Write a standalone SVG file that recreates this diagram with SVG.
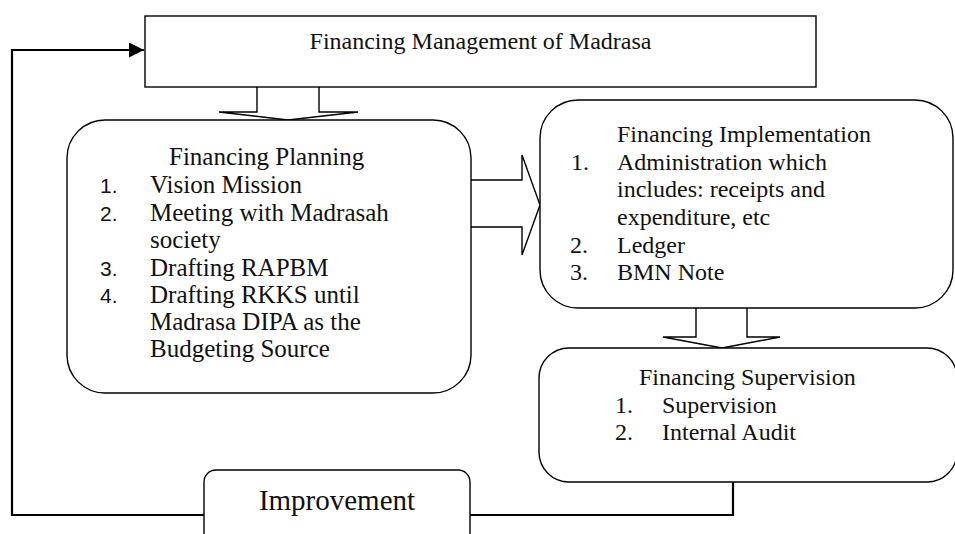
<svg xmlns="http://www.w3.org/2000/svg" width="955" height="534" viewBox="0 0 955 534">
<style>
.box{fill:#fff;stroke:#000;stroke-width:1.4}
.conn{fill:none;stroke:#000;stroke-width:1.4}
.fb{fill:none;stroke:#000;stroke-width:2.2}
.t{font-family:"Liberation Serif","Times New Roman",serif;font-size:24px;fill:#111}
.p{font-family:"Liberation Serif","Times New Roman",serif;font-size:25px;fill:#111}
.n{font-family:"Liberation Sans",Arial,sans-serif;font-size:21px;fill:#111}
.big{font-family:"Liberation Serif","Times New Roman",serif;font-size:29px;fill:#111}
</style>
<defs>
<marker id="ah" viewBox="0 0 10 10" refX="10" refY="5" markerWidth="15" markerHeight="15" markerUnits="userSpaceOnUse" orient="auto">
<path d="M0,0 L10,5 L0,10 Z" fill="#000"/>
</marker>
</defs>
<rect width="955" height="534" fill="#fff"/>
<g id="connectors">
<polyline class="fb" points="733,482 733,515 12,515 12,50 144,50" marker-end="url(#ah)"/>
<path class="conn" d="M257,87 V112 H219 L288,120 L358,112 H319 V87"/>
<path class="conn" d="M471,180 H522 V155 L540,205 L522,255 V227 H471"/>
<path class="conn" d="M696,308 V337 H663 L722,348 L780,337 H747 V308"/>
</g>
<g id="management">
<rect class="box" x="145" y="16" width="671" height="71"/>
<text class="t" x="480.5" y="49" text-anchor="middle">Financing Management of Madrasa</text>
</g>
<g id="planning">
<rect class="box" x="67" y="120" width="404" height="273" rx="38" ry="38"/>
<text class="p" x="169" y="165">Financing Planning</text>
<text class="n" x="100" y="193">1.</text>
<text class="n" x="100" y="221">2.</text>
<text class="n" x="100" y="276">3.</text>
<text class="n" x="100" y="303">4.</text>
<text class="p" x="150" y="193">Vision Mission</text>
<text class="p" x="150" y="221">Meeting with Madrasah</text>
<text class="p" x="150" y="248">society</text>
<text class="p" x="150" y="276">Drafting RAPBM</text>
<text class="p" x="150" y="303">Drafting RKKS until</text>
<text class="p" x="150" y="330">Madrasa DIPA as the</text>
<text class="p" x="150" y="357">Budgeting Source</text>
</g>
<g id="implementation">
<rect class="box" x="540" y="100" width="413" height="208" rx="38" ry="38"/>
<text class="t" x="617" y="142">Financing Implementation</text>
<text class="t" x="571" y="170">1.</text>
<text class="t" x="617" y="170">Administration which</text>
<text class="t" x="617" y="197">includes: receipts and</text>
<text class="t" x="617" y="225">expenditure, etc</text>
<text class="t" x="570" y="253">2.</text>
<text class="t" x="617" y="253">Ledger</text>
<text class="t" x="570" y="280">3.</text>
<text class="t" x="617" y="280">BMN Note</text>
</g>
<g id="supervision">
<rect class="box" x="539" y="348" width="418" height="134" rx="30" ry="30"/>
<text class="t" x="639" y="385">Financing Supervision</text>
<text class="t" x="615" y="413">1.</text>
<text class="t" x="662" y="413">Supervision</text>
<text class="t" x="615" y="440">2.</text>
<text class="t" x="662" y="440">Internal Audit</text>
</g>
<g id="improvement">
<rect class="box" x="204" y="470" width="266" height="80" rx="12" ry="12"/>
<text class="big" x="337" y="510" text-anchor="middle">Improvement</text>
</g>
</svg>
